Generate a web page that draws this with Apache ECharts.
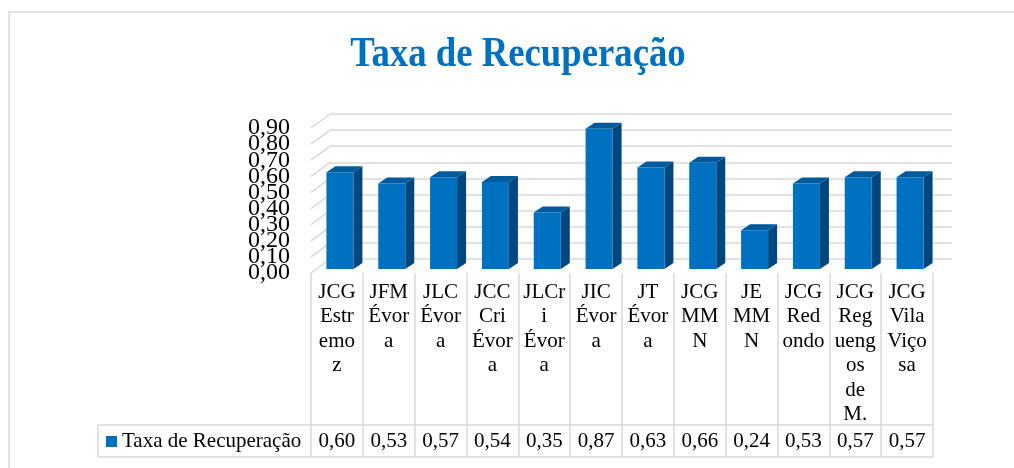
<!DOCTYPE html>
<html>
<head>
<meta charset="utf-8">
<script src="https://cdn.jsdelivr.net/npm/echarts@6/dist/echarts.min.js"></script>
<style>
html,body{margin:0;padding:0;background:#fff;}
#c{width:1014px;height:468px;}
</style>
</head>
<body>
<div id="c"></div>
<script>
var titleText = 'Taxa de Recuperação';
var seriesName = 'Taxa de Recuperação';
var categories = [
  'JCG\nEstr\nemo\nz', 'JFM\nÉvor\na', 'JLC\nÉvor\na', 'JCC\nCri\nÉvor\na',
  'JLCr\ni\nÉvor\na', 'JIC\nÉvor\na', 'JT\nÉvor\na', 'JCG\nMM\nN',
  'JE\nMM\nN', 'JCG\nRed\nondo', 'JCG\nReg\nueng\nos\nde\nM.', 'JCG\nVila\nViço\nsa'
];
var values = [0.60, 0.53, 0.57, 0.54, 0.35, 0.87, 0.63, 0.66, 0.24, 0.53, 0.57, 0.57];
var yTicks = [0, 0.1, 0.2, 0.3, 0.4, 0.5, 0.6, 0.7, 0.8, 0.9];

var SERIF = '"Liberation Serif", serif';
var GRID_COLOR = '#d9d9d9';
var BAR_COLOR = '#0070C0';
var fmt = function (v) { return v.toFixed(2).replace('.', ','); };

var chart = echarts.init(document.getElementById('c'), null, {renderer: 'canvas'});

var option = {
  animation: false,
  backgroundColor: '#fff',
  textStyle: {fontFamily: SERIF},
  graphic: [
    {type: 'rect', shape: {x: 9, y: 12, width: 1100, height: 520}, style: {fill: 'none', stroke: GRID_COLOR, lineWidth: 1.5}, silent: true, z: -10},
    {type: 'text', x: 518, y: 55, scaleX: 0.875, style: {text: titleText, fill: BAR_COLOR, fontFamily: SERIF, fontWeight: 'bold', fontSize: 42, textAlign: 'center', textVerticalAlign: 'middle'}},
    {type: 'line', shape: {x1: 98, y1: 425, x2: 933, y2: 425}, style: {stroke: GRID_COLOR, lineWidth: 1.5}},
    {type: 'line', shape: {x1: 98, y1: 457, x2: 933, y2: 457}, style: {stroke: GRID_COLOR, lineWidth: 1.5}},
    {type: 'line', shape: {x1: 98, y1: 425, x2: 98, y2: 457}, style: {stroke: GRID_COLOR, lineWidth: 1.5}},
    {type: 'rect', shape: {x: 106, y: 436, width: 11, height: 11}, style: {fill: BAR_COLOR}},
    {type: 'text', x: 122, y: 441.5, style: {text: seriesName, fill: '#000', fontFamily: SERIF, fontSize: 21, textAlign: 'left', textVerticalAlign: 'middle'}}
  ],
  grid: [
    {left: 311, top: 128, width: 622, height: 145, containLabel: false},
    {left: 330, top: 114, width: 622, height: 145, containLabel: false}
  ],
  xAxis: [
    {
      type: 'category', gridIndex: 0, data: categories, boundaryGap: true,
      axisLine: {show: false},
      axisTick: {show: true, length: 184, lineStyle: {color: GRID_COLOR, width: 1.5}},
      axisLabel: {interval: 0, margin: 7, fontFamily: SERIF, fontSize: 21, lineHeight: 24.5, color: '#000', align: 'center', verticalAlign: 'top'},
      splitLine: {show: false}
    },
    {
      type: 'category', gridIndex: 1, data: categories, show: false
    }
  ],
  yAxis: [
    {
      type: 'value', gridIndex: 0, min: 0, max: 0.9, interval: 0.1,
      axisLine: {show: false}, axisTick: {show: false},
      splitLine: {show: false},
      axisLabel: {show: false}
    },
    {
      type: 'value', gridIndex: 1, min: 0, max: 0.9, interval: 0.1,
      axisLine: {show: false}, axisTick: {show: false}, axisLabel: {show: false},
      splitLine: {show: true, lineStyle: {color: GRID_COLOR, width: 1.5}}
    }
  ],
  series: [
    {
      name: 'wall', type: 'custom', xAxisIndex: 0, yAxisIndex: 0, silent: true, z: 1,
      data: yTicks,
      renderItem: function (params, api) {
        var v = api.value(0);
        var p = api.coord([0, v]);
        var bw = api.size([1, 0])[0];
        var x = p[0] - bw / 2;
        return {
          type: 'group',
          children: [
            {type: 'line', shape: {x1: x, y1: p[1], x2: x + 19, y2: p[1] - 14}, style: {stroke: GRID_COLOR, lineWidth: 1.5}},
            {type: 'text', x: x - 21, y: p[1], style: {text: fmt(v), fontFamily: SERIF, fontSize: 24, fill: '#000', textAlign: 'right', textVerticalAlign: 'middle'}}
          ]
        };
      },
      encode: {y: 0}
    },
    {
      name: seriesName, type: 'custom', xAxisIndex: 0, yAxisIndex: 0, z: 5,
      itemStyle: {color: BAR_COLOR},
      data: values.map(function (v, i) { return [i, v]; }),
      encode: {x: 0, y: 1},
      renderItem: function (params, api) {
        var i = api.value(0), v = api.value(1);
        var p0 = api.coord([i, 0]);
        var p1 = api.coord([i, v]);
        var w = 27, dx = 9, dy = 6, ox = 3, oy = -4;
        var xl = p0[0] + ox - w / 2, xr = xl + w;
        var yb = p0[1] + oy, yt = p1[1] + oy;
        return {
          type: 'group',
          children: [
            {type: 'polygon', shape: {points: [[xr, yt], [xr + dx, yt - dy], [xr + dx, yb - dy], [xr, yb]]}, style: {fill: '#00467F'}},
            {type: 'polygon', shape: {points: [[xl, yt], [xl + dx, yt - dy], [xr + dx, yt - dy], [xr, yt]]}, style: {fill: '#005A9C'}},
            {type: 'rect', shape: {x: xl, y: yt, width: w, height: yb - yt}, style: {fill: BAR_COLOR}}
          ]
        };
      }
    },
    {
      name: 'table', type: 'custom', xAxisIndex: 0, yAxisIndex: 0, silent: true, z: 5,
      data: values.map(function (v, i) { return [i, v]; }),
      encode: {x: 0, y: 1},
      renderItem: function (params, api) {
        var i = api.value(0), v = api.value(1);
        var p0 = api.coord([i, 0]);
        return {type: 'text', x: p0[0], y: p0[1] + 168, style: {text: fmt(v), fontFamily: SERIF, fontSize: 21, fill: '#000', textAlign: 'center', textVerticalAlign: 'middle'}};
      }
    }
  ]
};
chart.setOption(option);
</script>
</body>
</html>
